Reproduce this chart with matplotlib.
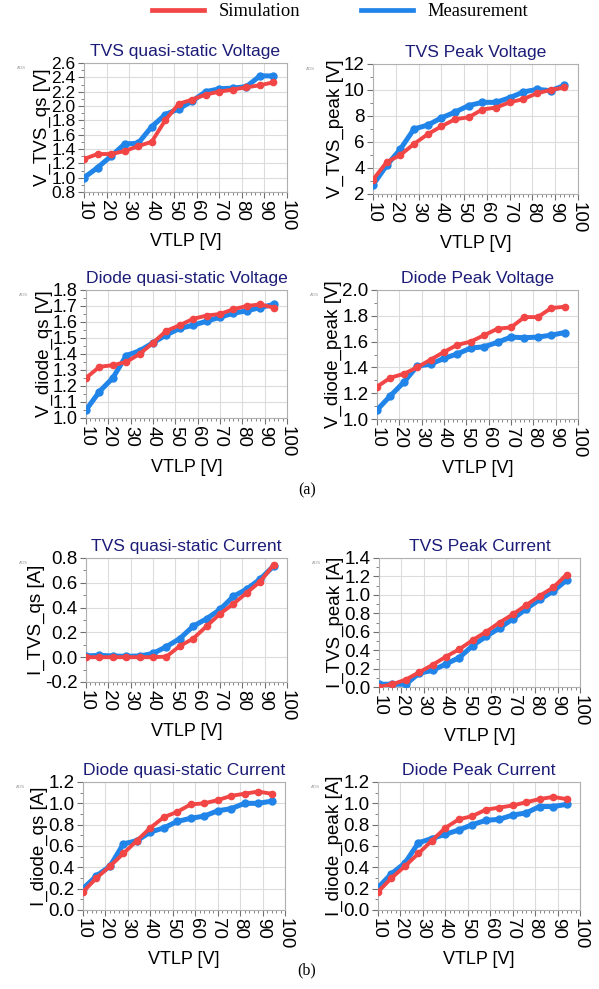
import matplotlib
matplotlib.use("Agg")
import matplotlib.pyplot as plt
from matplotlib.lines import Line2D
from matplotlib.ticker import MultipleLocator

vtlp = [10, 16, 22, 28, 34, 40, 46, 52, 58, 64, 70, 76, 82, 88, 94]

tvs_qs_v_sim = [1.26, 1.33, 1.33, 1.37, 1.44, 1.50, 1.80, 2.03, 2.09, 2.16, 2.20, 2.23, 2.26, 2.29, 2.33]
tvs_qs_v_meas = [1.00, 1.14, 1.30, 1.47, 1.48, 1.71, 1.88, 1.96, 2.07, 2.20, 2.24, 2.25, 2.27, 2.42, 2.42]

tvs_pk_v_sim = [3.1, 4.45, 5.0, 5.85, 6.6, 7.2, 7.75, 7.9, 8.5, 8.65, 9.05, 9.3, 9.75, 10.0, 10.2]
tvs_pk_v_meas = [2.7, 4.2, 5.45, 7.0, 7.3, 7.85, 8.3, 8.8, 9.05, 9.05, 9.4, 9.85, 10.05, 9.95, 10.35]

dio_qs_v_sim = [1.25, 1.32, 1.33, 1.35, 1.40, 1.47, 1.545, 1.58, 1.62, 1.64, 1.65, 1.68, 1.70, 1.71, 1.69]
dio_qs_v_meas = [1.05, 1.165, 1.25, 1.39, 1.42, 1.47, 1.52, 1.56, 1.58, 1.605, 1.63, 1.655, 1.67, 1.69, 1.71]

dio_pk_v_sim = [1.25, 1.32, 1.35, 1.40, 1.46, 1.52, 1.575, 1.60, 1.65, 1.70, 1.71, 1.79, 1.79, 1.86, 1.87]
dio_pk_v_meas = [1.07, 1.18, 1.285, 1.41, 1.425, 1.47, 1.505, 1.55, 1.56, 1.595, 1.635, 1.63, 1.635, 1.65, 1.67]

tvs_qs_i_sim = [0.0, 0.0, 0.0, 0.0, 0.0, 0.0, 0.005, 0.09, 0.15, 0.25, 0.35, 0.43, 0.52, 0.61, 0.745]
tvs_qs_i_meas = [0.01, 0.015, 0.01, 0.007, 0.01, 0.03, 0.085, 0.15, 0.25, 0.31, 0.385, 0.49, 0.55, 0.63, 0.735]

tvs_pk_i_sim = [0.0, 0.03, 0.08, 0.16, 0.24, 0.33, 0.41, 0.51, 0.60, 0.70, 0.79, 0.89, 0.99, 1.08, 1.22]
tvs_pk_i_meas = [0.03, 0.03, 0.03, 0.15, 0.18, 0.25, 0.32, 0.45, 0.55, 0.64, 0.74, 0.85, 0.95, 1.04, 1.16]

dio_qs_i_sim = [0.17, 0.30, 0.41, 0.53, 0.65, 0.77, 0.87, 0.92, 0.99, 1.00, 1.03, 1.07, 1.09, 1.11, 1.09]
dio_qs_i_meas = [0.20, 0.32, 0.41, 0.62, 0.65, 0.73, 0.77, 0.83, 0.86, 0.88, 0.93, 0.95, 1.00, 1.00, 1.02]

dio_pk_i_sim = [0.17, 0.30, 0.41, 0.53, 0.65, 0.77, 0.85, 0.88, 0.94, 0.96, 0.98, 1.01, 1.04, 1.06, 1.04]
dio_pk_i_meas = [0.21, 0.34, 0.44, 0.63, 0.67, 0.71, 0.75, 0.80, 0.84, 0.85, 0.89, 0.91, 0.97, 0.97, 0.99]

RED = "#f24646"
BLUE = "#2184e8"
TITLE_C = "#1c1c78"
SANS = ["Liberation Sans", "DejaVu Sans"]
SERIF = ["Liberation Serif", "DejaVu Serif"]

W, H = 599, 989
fig = plt.figure(figsize=(W / 100, H / 100), dpi=100)

panels = [
    ((84, 63, 287, 192), "TVS quasi-static Voltage", "V_TVS_qs [V]", tvs_qs_v_sim, tvs_qs_v_meas, (0.8, 2.6), 0.2, "{:.1f}", 12.5),
    ((373, 64, 578, 194), "TVS Peak Voltage", "V_TVS_peak [V]", tvs_pk_v_sim, tvs_pk_v_meas, (2, 12), 2, "{:.0f}", 13.5),
    ((86, 290, 287, 418), "Diode quasi-static Voltage", "V_diode_qs [V]", dio_qs_v_sim, dio_qs_v_meas, (1.0, 1.8), 0.1, "{:.1f}", 13),
    ((377, 290, 578, 419), "Diode Peak Voltage", "V_diode_peak [V]", dio_pk_v_sim, dio_pk_v_meas, (1.0, 2.0), 0.2, "{:.1f}", 13.5),
    ((86, 558, 287, 682), "TVS quasi-static Current", "I_TVS_qs [A]", tvs_qs_i_sim, tvs_qs_i_meas, (-0.2, 0.8), 0.2, "{:.1f}", 13.5),
    ((379, 558, 580, 687), "TVS Peak Current", "I_TVS_peak [A]", tvs_pk_i_sim, tvs_pk_i_meas, (0.0, 1.4), 0.2, "{:.1f}", 13.5),
    ((83, 782, 285, 910), "Diode quasi-static Current", "I_diode_qs [A]", dio_qs_i_sim, dio_qs_i_meas, (0.0, 1.2), 0.2, "{:.1f}", 13.5),
    ((378, 782, 580, 910), "Diode Peak Current", "I_diode_peak [A]", dio_pk_i_sim, dio_pk_i_meas, (0.0, 1.2), 0.2, "{:.1f}", 13.5),
]

for (x0, y0, x1, y1), title, ylab, sim, meas, ylim, ymaj, fmt, yfs in panels:
    ax = fig.add_axes([x0 / W, 1 - y1 / H, (x1 - x0) / W, (y1 - y0) / H])
    ax.plot(vtlp, meas, color=BLUE, lw=3.6, marker="o", ms=5, zorder=3)
    ax.plot(vtlp, sim, color=RED, lw=2.8, marker="o", ms=4.5, zorder=4)
    ax.set_xlim(10, 100)
    ax.set_ylim(*ylim)
    ax.xaxis.set_major_locator(MultipleLocator(10))
    ax.xaxis.set_minor_locator(MultipleLocator(2))
    ax.yaxis.set_major_locator(MultipleLocator(ymaj))
    ax.yaxis.set_minor_locator(MultipleLocator(ymaj / 2))
    ax.grid(True, which="major", color="#dcdcdc", lw=0.8)
    for s in ax.spines.values():
        s.set_color("#b0b0b0")
        s.set_linewidth(0.8)
    ax.tick_params(which="both", colors="#707070", labelcolor="black")
    ax.tick_params(which="major", length=4, width=0.8, pad=2)
    ax.tick_params(which="minor", length=2.5, width=0.6)
    ax.set_xticks(range(10, 101, 10))
    ax.set_xticklabels([str(v) for v in range(10, 101, 10)], rotation=-90,
                       fontsize=13.5, family=SANS)
    yt = ax.get_yticks()
    yt = [t for t in yt if ylim[0] - 1e-9 <= t <= ylim[1] + 1e-9]
    ax.set_yticks(yt)
    ax.set_yticklabels([fmt.format(t + 0.0) for t in yt], fontsize=yfs, family=SANS)
    ax.set_ylim(*ylim)
    ax.set_title(title, color=TITLE_C, fontsize=12.6, family=SANS, pad=5)
    ax.set_ylabel(ylab, fontsize=13.5, family=SANS, labelpad=0)
    ax.set_xlabel("VTLP [V]", fontsize=13, family=SANS, labelpad=1)
    fig.text((x0 - 67) / W, 1 - (y0 + 5) / H, "ADS", fontsize=3.2, color="#999999",
             family=SANS, ha="left", va="center")

handles = [Line2D([], [], color=RED, lw=3.4), Line2D([], [], color=BLUE, lw=3.4)]
fig.legend(handles, ["Simulation", "Measurement"], loc="center",
           bbox_to_anchor=(340 / W, 1 - 12 / H), ncol=2, frameon=False,
           prop={"family": SERIF, "size": 13.3}, handlelength=2.8,
           handletextpad=0.8, columnspacing=3.3)

fig.text(307 / W, 1 - 490 / H, "(a)", family=SERIF, fontsize=11.5, ha="center", va="center")
fig.text(307 / W, 1 - 970 / H, "(b)", family=SERIF, fontsize=11.5, ha="center", va="center")

fig.savefig("out.png", dpi=100)
